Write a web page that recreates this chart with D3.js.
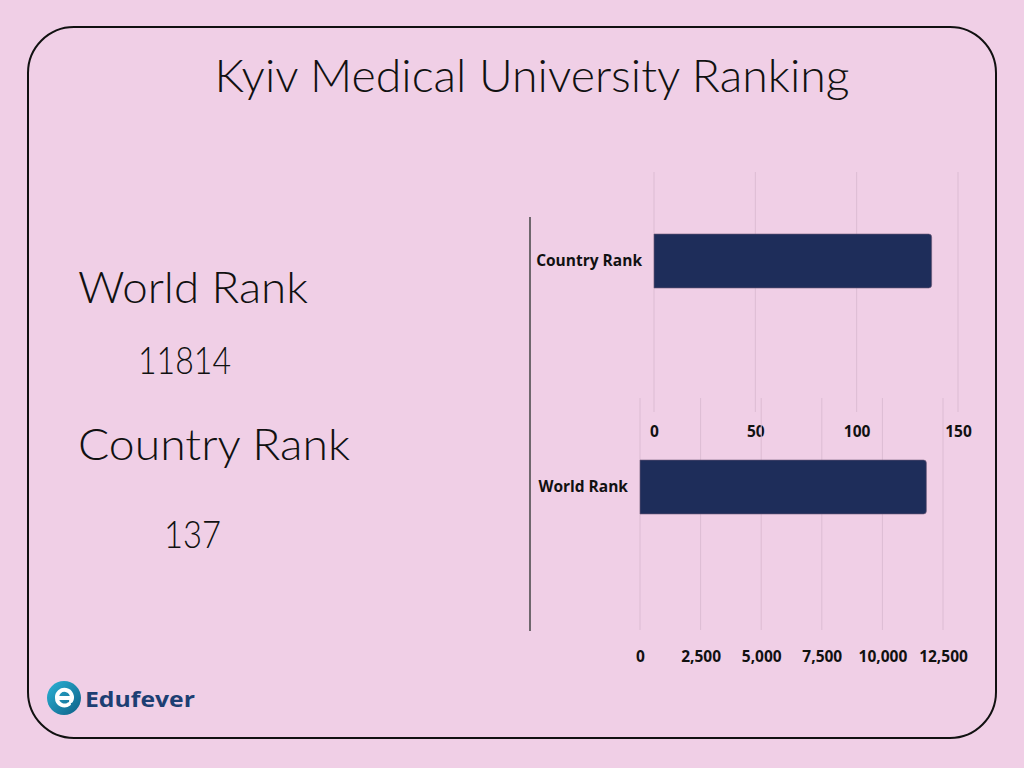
<!DOCTYPE html>
<html>
<head>
<meta charset="utf-8">
<script src="https://cdn.jsdelivr.net/npm/d3@7"></script>
<style>
  body { margin: 0; background: #f0cfe6; }
  svg { display: block; }
</style>
</head>
<body>
<div id="chart"></div>
<script>
// chart data
const categories = ["World Rank", "Country Rank"];
const rankValues = [11814, 137];
const worldTicks = [0, 2500, 5000, 7500, 10000, 12500];
const countryTicks = [0, 50, 100, 150];
const titleText = "Kyiv Medical University Ranking";

const W = 1024, H = 768;
const bg = "#f0cfe6", barColor = "#1e2d5a", gridColor = "#dcbcd3";

const svg = d3.select("#chart").append("svg")
    .attr("width", W)
    .attr("height", H);

svg.append("rect").attr("width", W).attr("height", H).attr("fill", bg);

// rounded frame
svg.append("rect")
    .attr("x", 28).attr("y", 27)
    .attr("width", 968).attr("height", 711)
    .attr("rx", 46).attr("ry", 46)
    .attr("fill", "none")
    .attr("stroke", "#111")
    .attr("stroke-width", 2);

// title
svg.append("text")
    .attr("x", 532).attr("y", 92)
    .attr("text-anchor", "middle")
    .attr("font-family", "Lato, 'DejaVu Sans', sans-serif")
    .attr("font-weight", 300)
    .attr("font-size", 46)
    .attr("textLength", 635)
    .attr("lengthAdjust", "spacingAndGlyphs")
    .attr("fill", "#111")
    .text(titleText);

// left side summary
const leftText = [
  {t: categories[0], x: 78, y: 303, size: 44, len: 230},
  {t: String(rankValues[0]), x: 138, y: 374, size: 38, len: 93},
  {t: categories[1], x: 78, y: 460, size: 44, len: 272},
  {t: String(rankValues[1]), x: 164, y: 548, size: 38, len: 57}
];
svg.selectAll(".lefttext")
    .data(leftText)
    .enter().append("text")
    .attr("class", "lefttext")
    .attr("x", d => d.x).attr("y", d => d.y)
    .attr("font-family", "Lato, 'DejaVu Sans', sans-serif")
    .attr("font-weight", 300)
    .attr("font-size", d => d.size)
    .attr("textLength", d => d.len)
    .attr("lengthAdjust", "spacingAndGlyphs")
    .attr("fill", "#111")
    .text(d => d.t);

// two stacked bar charts
const panels = [
  {cat: categories[1], value: rankValues[1], ticks: countryTicks,
   x: d3.scaleLinear().domain([0, 150]).range([654, 958]),
   y: d3.scaleBand().domain([categories[1]]).range([234, 288]),
   gridTop: 172, gridBottom: 412, tickY: 431},
  {cat: categories[0], value: rankValues[0], ticks: worldTicks,
   x: d3.scaleLinear().domain([0, 12500]).range([640, 943]),
   y: d3.scaleBand().domain([categories[0]]).range([460, 514]),
   gridTop: 398, gridBottom: 630, tickY: 656}
];

panels.forEach(p => {
  const g = svg.append("g");

  // gridlines
  g.selectAll(".grid")
      .data(p.ticks)
      .enter().append("line")
      .attr("x1", d => p.x(d)).attr("x2", d => p.x(d))
      .attr("y1", p.gridTop).attr("y2", p.gridBottom)
      .attr("stroke", gridColor)
      .attr("stroke-width", 1);

  // tick labels via axis
  const axis = d3.axisBottom(p.x)
      .tickValues(p.ticks)
      .tickSize(0)
      .tickFormat(d3.format(","));
  const ax = g.append("g")
      .attr("transform", `translate(0,${p.tickY - 8})`)
      .call(axis);
  ax.select(".domain").remove();
  ax.selectAll("text")
      .attr("font-family", "'Open Sans', 'Noto Sans', sans-serif")
      .attr("font-weight", 700)
      .attr("font-size", 15.5)
      .attr("fill", "#111");

  // bar with rounded right end
  const x0 = p.x(0), x1 = p.x(p.value);
  const y0 = p.y(p.cat), bh = p.y.bandwidth(), r = 3;
  g.append("path")
      .attr("d", `M${x0},${y0}H${x1 - r}Q${x1},${y0} ${x1},${y0 + r}V${y0 + bh - r}Q${x1},${y0 + bh} ${x1 - r},${y0 + bh}H${x0}Z`)
      .attr("fill", barColor)
      .attr("stroke", "#6e5a78")
      .attr("stroke-width", 0.6);

  // category label
  g.append("text")
      .attr("x", x0 - 12)
      .attr("y", y0 + bh / 2)
      .attr("dy", "0.35em")
      .attr("text-anchor", "end")
      .attr("font-family", "'Open Sans', 'Noto Sans', sans-serif")
      .attr("font-weight", 700)
      .attr("font-size", 15.5)
      .attr("fill", "#111")
      .text(p.cat);
});

// shared vertical axis line
svg.append("line")
    .attr("x1", 530).attr("x2", 530)
    .attr("y1", 217).attr("y2", 631)
    .attr("stroke", "#444")
    .attr("stroke-width", 1.5);

// logo
const defs = svg.append("defs");
const grad = defs.append("linearGradient").attr("id", "logoGrad")
    .attr("x1", "0%").attr("y1", "0%").attr("x2", "100%").attr("y2", "100%");
grad.append("stop").attr("offset", "0%").attr("stop-color", "#2bb3d6");
grad.append("stop").attr("offset", "100%").attr("stop-color", "#0e5f86");

const logo = svg.append("g").attr("transform", "translate(64,698)");
logo.append("circle").attr("r", 17).attr("fill", "url(#logoGrad)");
logo.append("path")
    .attr("d", "M-7,0 A7.5,7.5 0 1 1 7,3 M-7,0 H7.5 M-7,0 A7.5,7.5 0 0 0 5,6")
    .attr("fill", "none")
    .attr("stroke", "#fff")
    .attr("stroke-width", 4)
    .attr("stroke-linecap", "round");
svg.append("text")
    .attr("x", 85).attr("y", 707)
    .attr("font-family", "'Open Sans', 'Noto Sans', sans-serif")
    .attr("font-weight", 700)
    .attr("font-size", 22)
    .attr("textLength", 110)
    .attr("lengthAdjust", "spacingAndGlyphs")
    .attr("fill", "#1d3f73")
    .text("Edufever");
</script>
</body>
</html>
